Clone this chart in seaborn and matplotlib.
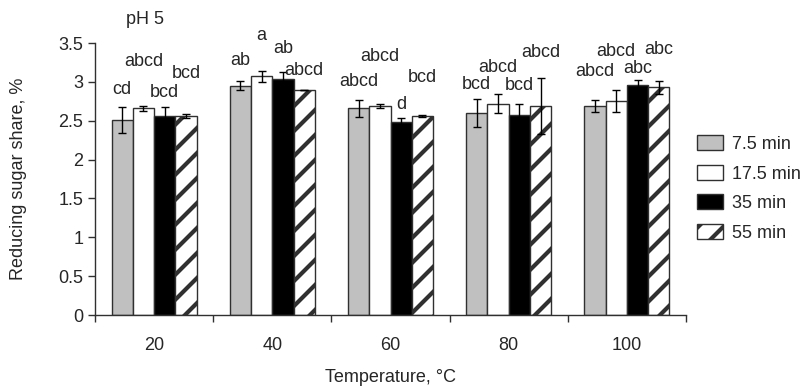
import pandas as pd
import seaborn as sns
import matplotlib.pyplot as plt

# temperatures (x categories) and heating times (hue)
temps = ["20", "40", "60", "80", "100"]
times = ["7.5 min", "17.5 min", "35 min", "55 min"]

# reducing sugar share, % (means)
share_75 = [2.51, 2.95, 2.66, 2.60, 2.69]
share_175 = [2.66, 3.07, 2.69, 2.72, 2.75]
share_35 = [2.56, 3.04, 2.48, 2.57, 2.96]
share_55 = [2.56, 2.89, 2.56, 2.69, 2.93]

# error bar half-lengths
err_75 = [0.17, 0.06, 0.11, 0.18, 0.08]
err_175 = [0.03, 0.07, 0.02, 0.12, 0.14]
err_35 = [0.12, 0.09, 0.06, 0.15, 0.06]
err_55 = [0.03, 0.0, 0.01, 0.36, 0.08]

# significance letters
let_75 = ["cd", "ab", "abcd", "bcd", "abcd"]
let_175 = ["abcd", "a", "abcd", "abcd", "abcd"]
let_35 = ["bcd", "ab", "d", "bcd", "abc"]
let_55 = ["bcd", "abcd", "bcd", "abcd", "abc"]

# where the letters sit (y, data units) - placed by hand in the original
let_y_75 = [2.90, 3.28, 3.00, 2.96, 3.13]
let_y_175 = [3.26, 3.60, 3.32, 3.18, 3.39]
let_y_35 = [2.86, 3.43, 2.71, 2.95, 3.17]
let_y_55 = [3.11, 3.15, 3.05, 3.38, 3.41]

shares = [share_75, share_175, share_35, share_55]
errs = [err_75, err_175, err_35, err_55]
letters = [let_75, let_175, let_35, let_55]
let_ys = [let_y_75, let_y_175, let_y_35, let_y_55]

rows = []
for t, vals in zip(times, shares):
    for temp, v in zip(temps, vals):
        rows.append({"Temperature": temp, "Time": t, "Share": v})
df = pd.DataFrame(rows)

# rendered at 150 dpi so the hatch spacing comes out like the original;
# K converts "100 dpi points" to real points
DPI = 150
K = 100 / DPI

sns.set_style("ticks")
plt.rcParams["font.family"] = ["Liberation Sans", "DejaVu Sans"]
plt.rcParams["hatch.linewidth"] = 2.0
FS = 13 * K

fig = plt.figure(figsize=(800 / DPI, 390 / DPI), dpi=DPI)
ax = fig.add_axes([95 / 800, 75 / 390, (686 - 95) / 800, (315 - 43) / 390])

sns.barplot(data=df, x="Temperature", y="Share", hue="Time",
            order=temps, hue_order=times,
            palette=["#c0c0c0", "white", "black", "white"],
            edgecolor="#303030", linewidth=1 * K, width=0.72,
            saturation=1, errorbar=None, legend=False, ax=ax)

for patch in ax.containers[3].patches:
    patch.set_hatch("//")

bars = list(ax.containers)
for cont, err, labs, ly in zip(bars, errs, letters, let_ys):
    xs = [p.get_x() + p.get_width() / 2 for p in cont.patches]
    ys = [p.get_height() for p in cont.patches]
    ax.errorbar(xs, ys, yerr=err, fmt="none", ecolor="black",
                elinewidth=1 * K, capsize=3 * K, capthick=1 * K)
    for x, lab, y in zip(xs, labs, ly):
        ax.text(x, y, lab, ha="center", va="center", fontsize=FS)

ax.text(-0.08, 3.8, "pH 5", ha="center", va="center", fontsize=FS)

ax.set_ylim(0, 3.5)
ax.set_xlim(-0.5, 4.5)
ax.set_yticks([0, 0.5, 1, 1.5, 2, 2.5, 3, 3.5])
ax.set_yticklabels(["0", "0.5", "1", "1.5", "2", "2.5", "3", "3.5"])
ax.set_xticks(range(5))
ax.set_xticks([i - 0.5 for i in range(6)], minor=True)
ax.tick_params(axis="x", which="major", length=0, pad=16 * K, labelsize=FS)
ax.tick_params(axis="x", which="minor", length=5 * K, width=1 * K,
               color="#303030")
ax.tick_params(axis="y", length=5 * K, width=1 * K, pad=3.5 * K,
               color="#303030", labelsize=FS)

sns.despine(ax=ax)
for s in ["left", "bottom"]:
    ax.spines[s].set_color("#303030")
    ax.spines[s].set_linewidth(1 * K)

ax.set_xlabel("Temperature, °C", fontsize=FS)
ax.set_ylabel("Reducing sugar share, %", fontsize=FS)
ax.xaxis.set_label_coords(0.5, -0.2)
ax.yaxis.set_label_coords(-0.115, 0.5)

ax.legend(handles=bars, labels=times, loc="upper left",
          bbox_to_anchor=(1.019, 0.66), bbox_transform=ax.transAxes,
          frameon=False, handlelength=1.4, handleheight=0.9,
          labelspacing=0.65, handletextpad=0.5, borderpad=0,
          borderaxespad=0, fontsize=FS)

fig.savefig("out.png", dpi=DPI)
